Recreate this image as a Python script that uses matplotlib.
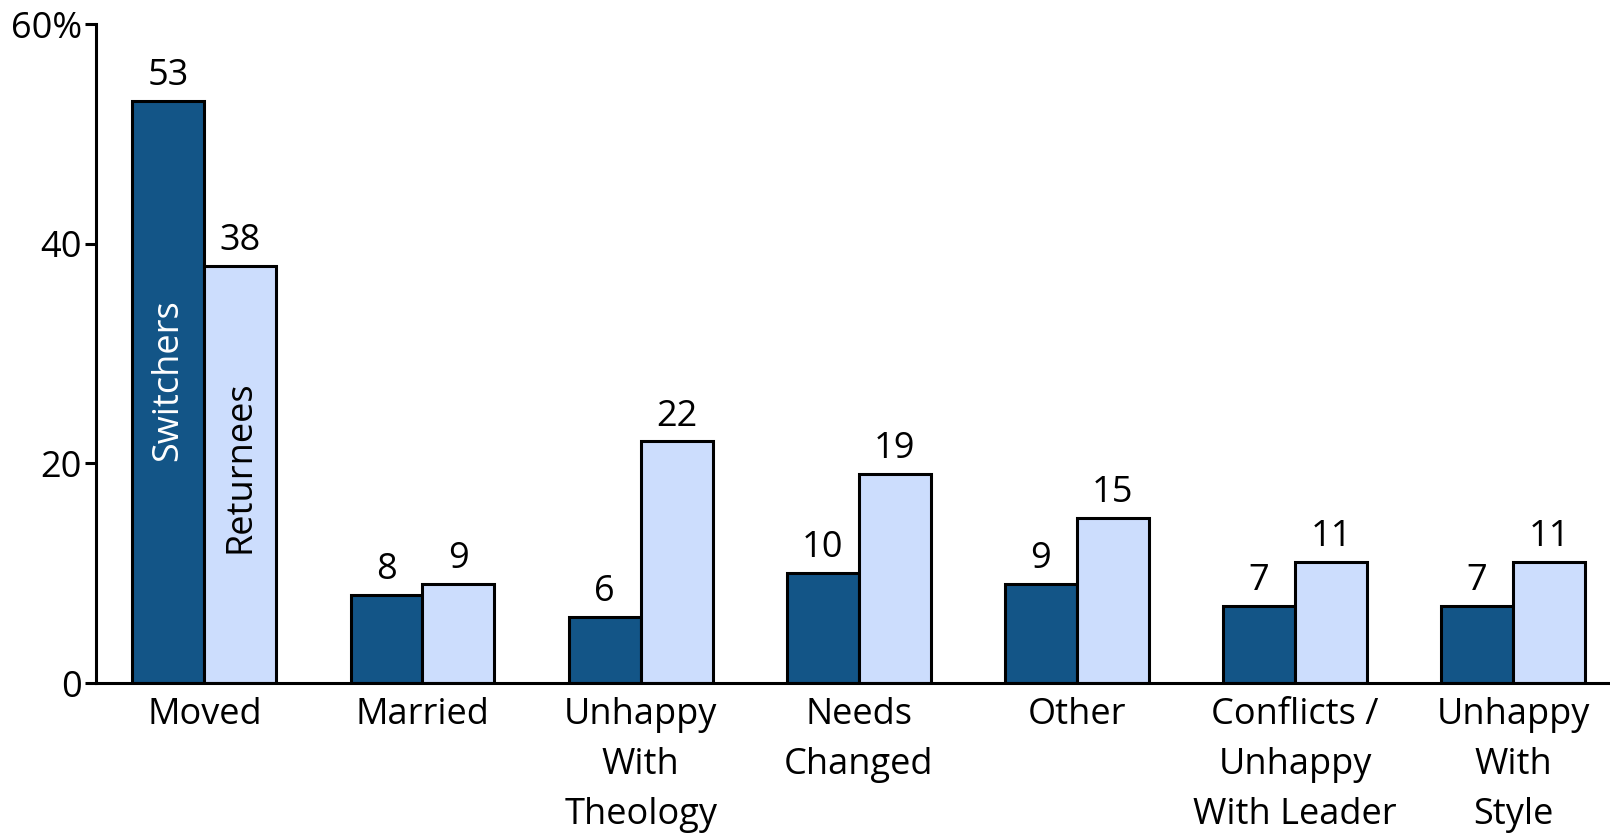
import numpy as np
import matplotlib.pyplot as plt

plt.rcParams['font.family'] = ['Open Sans', 'DejaVu Sans']

categories = ['Moved', 'Married', 'Unhappy\nWith\nTheology', 'Needs\nChanged',
              'Other', 'Conflicts /\nUnhappy\nWith Leader', 'Unhappy\nWith\nStyle']
switchers = [53, 8, 6, 10, 9, 7, 7]
returnees = [38, 9, 22, 19, 15, 11, 11]
yticks = [0, 20, 40, 60]
ytick_labels = ['0', '20', '40', '60%']

dark = '#135587'
light = '#CCDDFD'
fs = 26

fig = plt.figure(figsize=(16.1, 8.34), dpi=100)
ax = fig.add_axes([0.0596, 0.181, 0.9404, 0.790])

x = np.arange(len(categories))
w = 0.33
b1 = ax.bar(x - w / 2, switchers, w, color=dark, edgecolor='black', linewidth=2.2)
b2 = ax.bar(x + w / 2, returnees, w, color=light, edgecolor='black', linewidth=2.2)

for rect, v in zip(b1, switchers):
    ax.annotate(str(v), (rect.get_x() + rect.get_width() / 2, v), xytext=(0, 5),
                textcoords='offset points', ha='center', va='bottom', fontsize=fs)
for rect, v in zip(b2, returnees):
    ax.annotate(str(v), (rect.get_x() + rect.get_width() / 2, v), xytext=(0, 5),
                textcoords='offset points', ha='center', va='bottom', fontsize=fs)

# series names written inside the first pair of bars
ax.text(x[0] - w / 2, 27.6, 'Switchers', rotation=90, ha='center', va='center',
        color='white', fontsize=fs)
ax.text(x[0] + w / 2, 19.7, 'Returnees', rotation=90, ha='center', va='center',
        color='black', fontsize=fs)

ax.set_xlim(-0.497, 6.444)
ax.set_ylim(0, 60)
ax.set_xticks(x)
ax.set_xticklabels(categories, fontsize=fs, linespacing=1.52)
ax.set_yticks(yticks)
ax.set_yticklabels(ytick_labels, fontsize=fs)
ax.tick_params(axis='x', length=0, pad=10)
ax.tick_params(axis='y', length=8, width=2.2, pad=2)

for s in ['top', 'right']:
    ax.spines[s].set_visible(False)
ax.spines['left'].set_linewidth(2.2)
ax.spines['bottom'].set_linewidth(2.2)

fig.savefig('out.png', dpi=100)
